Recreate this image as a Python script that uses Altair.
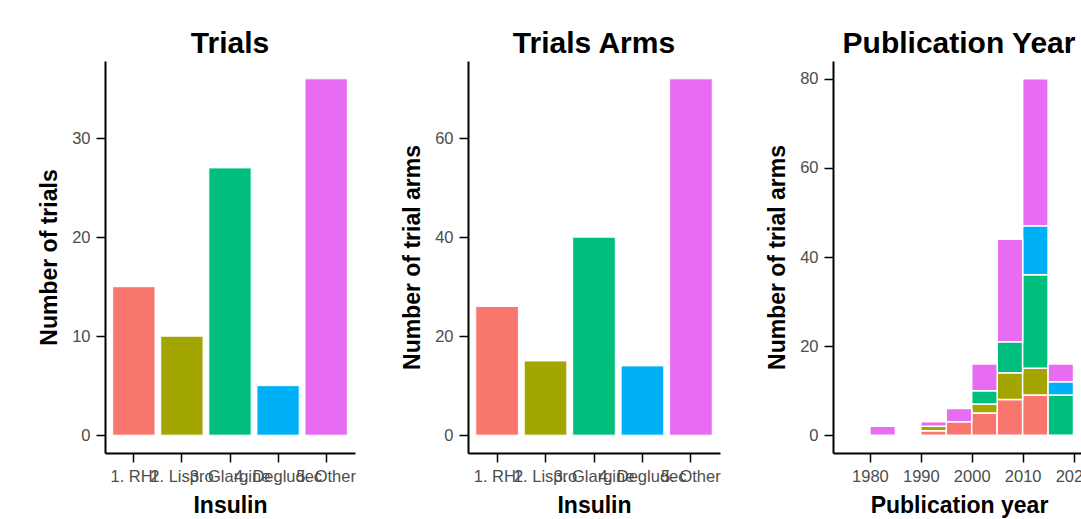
import altair as alt
import pandas as pd

FONT = "Liberation Sans"

insulin = ["1. RHI", "2. Lispro", "3. Glargine", "4. Degludec", "5. Other"]
trials = [15, 10, 27, 5, 36]
arms = [26, 15, 40, 14, 72]
colors = ["#F8766D", "#A3A500", "#00BF7D", "#00B0F6", "#E76BF3"]

bin_start = [1980, 1990, 1995, 2000, 2005, 2010, 2015]
binwidth = 5
arms_rhi = [0, 1, 3, 5, 8, 9, 0]
arms_lispro = [0, 1, 0, 2, 6, 6, 0]
arms_glargine = [0, 0, 0, 3, 7, 21, 9]
arms_degludec = [0, 0, 0, 0, 0, 11, 3]
arms_other = [2, 1, 3, 6, 23, 33, 4]

df_bar = pd.DataFrame({"insulin": insulin, "trials": trials, "arms": arms})

rows = []
for k, series in enumerate([arms_rhi, arms_lispro, arms_glargine, arms_degludec, arms_other]):
    for s, c in zip(bin_start, series):
        if c > 0:
            rows.append({"start": s, "end": s + binwidth, "insulin": insulin[k], "ord": k, "count": c})
df_hist = pd.DataFrame(rows)

color = alt.Color("insulin:N", scale=alt.Scale(domain=insulin, range=colors), legend=None)

x_band = alt.X("insulin:N", sort=insulin, title="Insulin",
               scale=alt.Scale(paddingInner=0.12, paddingOuter=0.16),
               axis=alt.Axis(labelAngle=0, labelOverlap=False))

p1 = alt.Chart(df_bar).mark_bar(stroke="white", strokeWidth=1).encode(
    x=x_band,
    y=alt.Y("trials:Q", title="Number of trials",
            scale=alt.Scale(domain=[-1.8, 37.8], nice=False, zero=False),
            axis=alt.Axis(values=[0, 10, 20, 30])),
    y2=alt.datum(0),
    color=color,
).properties(width=250, height=392, title="Trials")

p2 = alt.Chart(df_bar).mark_bar(stroke="white", strokeWidth=1).encode(
    x=x_band,
    y=alt.Y("arms:Q", title="Number of trial arms",
            scale=alt.Scale(domain=[-3.6, 75.6], nice=False, zero=False),
            axis=alt.Axis(values=[0, 20, 40, 60])),
    y2=alt.datum(0),
    color=color,
).properties(width=252, height=392, title="Trials Arms")

p3 = alt.Chart(df_hist).transform_stack(
    stack="count", groupby=["start"], as_=["y0", "y1"], sort=[alt.SortField("ord")]
).mark_bar(stroke="white", strokeWidth=1.5).encode(
    x=alt.X("start:Q", title="Publication year",
            scale=alt.Scale(domain=[1972.75, 2022.25], nice=False, zero=False),
            axis=alt.Axis(values=[1980, 1990, 2000, 2010, 2020], format="d")),
    x2="end:Q",
    y=alt.Y("y1:Q", title="Number of trial arms",
            scale=alt.Scale(domain=[-4, 84], nice=False, zero=False),
            axis=alt.Axis(values=[0, 20, 40, 60, 80])),
    y2="y0:Q",
    color=color,
).properties(width=252, height=392, title="Publication Year")

chart = alt.hconcat(p1, p2, p3, spacing=113, bounds="flush").properties(
    autosize=alt.AutoSizeParams(type="none"),
    padding={"left": 105, "top": 61, "right": 976, "bottom": 458},
    background="white",
).configure_view(stroke=None).configure_axis(
    grid=False,
    domainColor="black", domainWidth=2,
    tickColor="black", tickWidth=1.5, tickSize=9,
    labelFont=FONT, labelFontSize=16.5, labelColor="#4D4D4D", labelPadding=6,
    titleFont=FONT, titleFontSize=23, titleFontWeight="bold", titleColor="black", titlePadding=10,
).configure_title(
    font=FONT, fontSize=30, fontWeight="bold", color="black",
    anchor="middle", frame="group", baseline="alphabetic", offset=2,
)

chart.save("out.html", embed_options={"renderer": "svg", "actions": False})
